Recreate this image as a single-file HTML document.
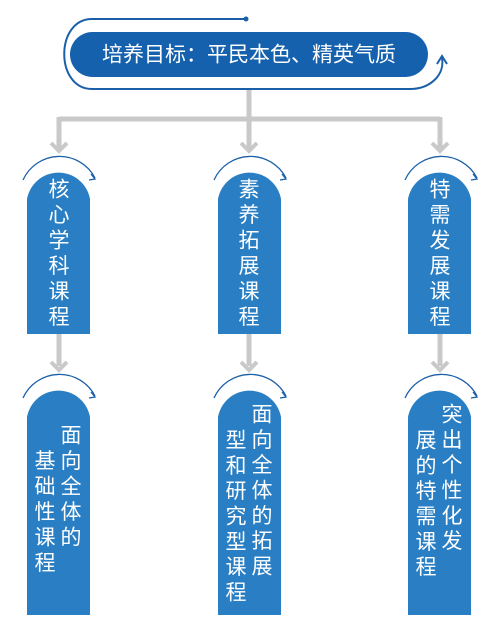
<!DOCTYPE html>
<html><head><meta charset="utf-8"><style>
html,body{margin:0;padding:0;background:#fff;}
svg{display:block;}
text{font-family:"Liberation Sans","Noto Sans CJK SC",sans-serif;fill:#fff;}
</style></head><body>
<svg width="492" height="630" viewBox="0 0 492 630" xmlns="http://www.w3.org/2000/svg">
<defs>
<marker id="ah" markerWidth="10" markerHeight="10" refX="5" refY="5" orient="auto" markerUnits="userSpaceOnUse"><path d="M1,1 L6,5 L1,9" fill="none" stroke="#1a5fa8" stroke-width="1.5"/></marker>
</defs>
<!-- gray connectors -->
<g stroke="#c9c9c9" stroke-width="5" fill="none">
<path d="M249,89 V119 M59,119 H440 M59,117 V148 M249,117 V148 M440,117 V148"/>
<path d="M59,334 V366 M249,334 V366 M440,334 V366"/>
</g>
<g stroke="#c9c9c9" stroke-width="4" fill="none">
<path d="M51,143 L59,151 L67,143 M241,143 L249,151 L257,143 M432,143 L440,151 L448,143"/>
<path d="M51,362 L59,370 L67,362 M241,362 L249,370 L257,362 M432,362 L440,370 L448,362"/>
</g>
<!-- top outline -->
<path d="M246,19 H92 C55,19 55,89 92,89 H410 C430,89 445,75 442,58" fill="none" stroke="#1a5fa8" stroke-width="2"/>
<circle cx="246" cy="19" r="2.5" fill="#1a5fa8"/>
<path d="M437,64 L442,56 L447,64" fill="none" stroke="#1a5fa8" stroke-width="2"/>
<!-- top pill -->
<rect x="70" y="32" width="358" height="45" rx="22.5" fill="#1561ad"/>
<text x="249" y="55" font-size="21" text-anchor="middle" dominant-baseline="central">培养目标：平民本色、精英气质</text>
<!-- boxes -->
<g fill="#2a7fc4">
<path d="M27,334 V199 A32,32 0 0 1 90,199 V334 Z"/>
<path d="M218,334 V199 A32,32 0 0 1 281,199 V334 Z"/>
<path d="M408,334 V199 A32,32 0 0 1 471,199 V334 Z"/>
<path d="M27,615 V417 A32,32 0 0 1 90,417 V615 Z"/>
<path d="M218,615 V417 A32,32 0 0 1 281,417 V615 Z"/>
<path d="M408,615 V417 A32,32 0 0 1 471,417 V615 Z"/>
</g>
<!-- arcs -->
<g fill="none" stroke="#1a5fa8" stroke-width="1.3">
<path d="M23,180 A40,40 0 0 1 95,178"/><path d="M91,174 L95,179 L89,180"/>
<path d="M214,180 A40,40 0 0 1 286,178"/><path d="M282,174 L286,179 L280,180"/>
<path d="M405,180 A40,40 0 0 1 477,178"/><path d="M473,174 L477,179 L471,180"/>
<path d="M23,398 A40,40 0 0 1 95,396"/><path d="M91,392 L95,397 L89,398"/>
<path d="M214,398 A40,40 0 0 1 286,396"/><path d="M282,392 L286,397 L280,398"/>
<path d="M405,398 A40,40 0 0 1 477,396"/><path d="M473,392 L477,397 L471,398"/>
</g>
<g font-size="21" text-anchor="middle" dominant-baseline="central">
<!-- top left -->
<text x="59" y="190">核</text><text x="59" y="215.5">心</text><text x="59" y="241">学</text><text x="59" y="266.5">科</text><text x="59" y="292">课</text><text x="59" y="317.5">程</text>
<!-- top mid -->
<text x="249" y="190">素</text><text x="249" y="215.5">养</text><text x="249" y="241">拓</text><text x="249" y="266.5">展</text><text x="249" y="292">课</text><text x="249" y="317.5">程</text>
<!-- top right -->
<text x="440" y="190">特</text><text x="440" y="215.5">需</text><text x="440" y="241">发</text><text x="440" y="266.5">展</text><text x="440" y="292">课</text><text x="440" y="317.5">程</text>
<!-- bottom left -->
<text x="71" y="436">面</text><text x="71" y="461.5">向</text><text x="71" y="487">全</text><text x="71" y="512.5">体</text><text x="71" y="538">的</text>
<text x="45" y="461.5">基</text><text x="45" y="487">础</text><text x="45" y="512.5">性</text><text x="45" y="538">课</text><text x="45" y="563.5">程</text>
<!-- bottom mid -->
<text x="262" y="415">面</text><text x="262" y="440.3">向</text><text x="262" y="465.6">全</text><text x="262" y="491">体</text><text x="262" y="516.3">的</text><text x="262" y="541.6">拓</text><text x="262" y="567">展</text>
<text x="236" y="441">型</text><text x="236" y="466.3">和</text><text x="236" y="491.6">研</text><text x="236" y="517">究</text><text x="236" y="542.3">型</text><text x="236" y="567.6">课</text><text x="236" y="593">程</text>
<!-- bottom right -->
<text x="452" y="415">突</text><text x="452" y="440.3">出</text><text x="452" y="465.6">个</text><text x="452" y="491">性</text><text x="452" y="516.3">化</text><text x="452" y="541.6">发</text>
<text x="426" y="441">展</text><text x="426" y="466.3">的</text><text x="426" y="491.6">特</text><text x="426" y="517">需</text><text x="426" y="542.3">课</text><text x="426" y="567.6">程</text>
</g>
</svg>
</body></html>
